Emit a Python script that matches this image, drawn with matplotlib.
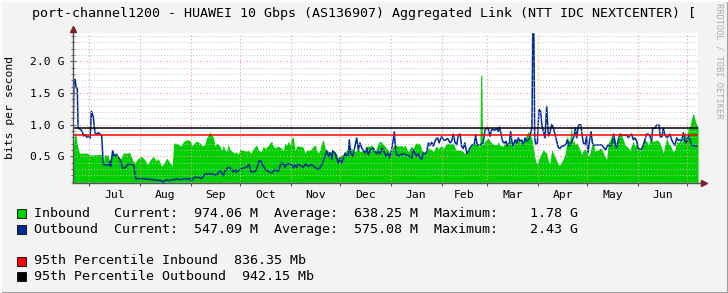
import matplotlib
matplotlib.use('Agg')
import matplotlib.pyplot as plt
from matplotlib.patches import Rectangle
from matplotlib.lines import Line2D

plt.rcParams['font.family'] = ['DejaVu Sans Mono']

# x = days since Jun 21, values in Gbps
months = ['Jul', 'Aug', 'Sep', 'Oct', 'Nov', 'Dec', 'Jan', 'Feb', 'Mar', 'Apr', 'May', 'Jun']
month_starts = [10, 41, 72, 102, 133, 163, 194, 225, 253, 284, 314, 345, 375]

in_days = [0, 1.2, 1.8, 2.2, 3.9, 8.3, 10.8, 17.5, 18.5, 19.1, 21.6, 22.2, 23.6, 26.7, 28.7, 30.7,
           33.8, 34.4, 36.8, 37.9, 39.9, 41.9, 44, 45.4, 47, 49, 50.7, 52.1, 54.1, 56.2, 57.2, 59.2,
           60.5, 61.5, 62.3, 64.3, 66, 67.4, 69.4, 71.4, 72.9, 74.1, 75.5, 77.5, 79, 80.6, 81.6, 82.6,
           83.6, 84.7, 85.7, 86.7, 87.7, 89.1, 90.8, 91.8, 92.8, 93.8, 94.8, 95.9, 96.9, 98.5, 99.9,
           100.9, 102, 103, 104, 105, 107, 108.7, 110.1, 112.1, 113.2, 114.8, 116.2, 117.2, 118.8,
           120.3, 121.3, 122.3, 123.3, 125.4, 127, 128.4, 129.4, 130.5, 131.5, 132.5, 133.5, 134.5,
           135.6, 136.6, 138.6, 140.6, 141.7, 142.7, 144.7, 146.8, 147.8, 148.8, 149.8, 150.8, 151.8,
           152.9, 153.9, 154.9, 156.9, 159, 161, 162, 163, 165.1, 167.1, 168.1, 170.2, 172.2, 174.2,
           175.2, 177.3, 178.3, 179.3, 181.3, 182.4, 183.4, 184.4, 185.4, 186.4, 187.5, 189.5, 191.5,
           192.5, 193.6, 194.6, 195.6, 196.6, 198.6, 200.7, 201.7, 202.7, 203.7, 204.7, 205.8, 206.8,
           207.8, 208.8, 209.8, 211.9, 212.9, 213.9, 214.9, 215.9, 217, 219, 220, 221, 222, 223.1,
           225.1, 226.1, 227.1, 228.1, 230.2, 232.2, 233.2, 234.3, 236.3, 238.3, 239.3, 240.4, 241.4,
           242.4, 243.4, 244.4, 245.4, 247.5, 248.4, 248.9, 249.6, 250.1, 250.5, 251.5, 252.6, 253.6,
           254.6, 255.6, 256.6, 258.7, 259.7, 260.7, 262.7, 263.8, 265.8, 266.8, 267.8, 268.8, 269.9,
           270.9, 272.9, 273.9, 274.9, 276, 277, 278, 279, 280, 281.1, 282.1, 283.1, 284.1, 285.1,
           286.1, 287.2, 288.2, 289.2, 290.2, 291.2, 292.2, 293.3, 294.3, 295.3, 296.3, 297.3, 298.4,
           299.4, 300.4, 301.4, 301.8, 302.4, 303.4, 304.3, 305.1, 305.9, 306.5, 307.5, 308.5, 309.5,
           310.6, 311.6, 312.6, 313.6, 314.6, 315.6, 316.7, 317.7, 318.7, 320.7, 321.8, 322.8, 323.8,
           324.8, 325.8, 326.8, 327.9, 328.9, 329.9, 330.9, 331.9, 332.9, 334, 335, 336, 337, 338,
           339, 340.1, 341.1, 342.1, 343.1, 344.1, 345.2, 346.2, 347.2, 348.2, 349.2, 350.2, 351.3,
           352.3, 353.3, 355.3, 356.3, 357.4, 358.4, 359.4, 360.4, 361.4, 362.5, 363.5, 364.5, 365.5,
           366.5, 367.5, 368.6, 369.6, 370.6, 371.6, 372.6, 373.6, 374.7, 375.7, 376.7, 377.7, 378.7,
           379.3, 380.2, 381.6]
in_vals = [0.63, 0.87, 0.87, 0.74, 0.55, 0.55, 0.52, 0.53, 0.37, 0.52, 0.52, 0.42, 0.55, 0.55, 0.44, 0.55,
           0.55, 0.57, 0.42, 0.40, 0.47, 0.50, 0.44, 0.37, 0.44, 0.50, 0.43, 0.46, 0.34, 0.42, 0.47, 0.40,
           0.35, 0.70, 0.71, 0.69, 0.66, 0.73, 0.76, 0.75, 0.66, 0.71, 0.74, 0.71, 0.66, 0.69, 0.79, 0.84,
           0.88, 0.84, 0.79, 0.66, 0.71, 0.68, 0.60, 0.67, 0.60, 0.58, 0.69, 0.60, 0.58, 0.55, 0.57,
           0.53, 0.62, 0.59, 0.60, 0.58, 0.59, 0.55, 0.62, 0.68, 0.60, 0.57, 0.66, 0.62, 0.66,
           0.71, 0.74, 0.66, 0.63, 0.66, 0.63, 0.59, 0.71, 0.67, 0.74, 0.68, 0.79, 0.80,
           0.59, 0.66, 0.66, 0.64, 0.55, 0.60, 0.59, 0.66, 0.68, 0.60, 0.55, 0.60, 0.71,
           0.76, 0.63, 0.59, 0.57, 0.59, 0.54, 0.47, 0.51, 0.53, 0.60, 0.63, 0.62, 0.57, 0.63,
           0.57, 0.60, 0.58, 0.66, 0.66, 0.68, 0.63, 0.57, 0.64, 0.71, 0.74, 0.69, 0.62,
           0.60, 0.54, 0.60, 0.66, 0.68, 0.66, 0.67, 0.64, 0.68, 0.62, 0.57, 0.63, 0.66,
           0.62, 0.69, 0.71, 0.69, 0.60, 0.57, 0.54, 0.59, 0.63, 0.60, 0.57, 0.63, 0.66, 0.62,
           0.67, 0.62, 0.66, 0.71, 0.69, 0.71, 0.63, 0.59, 0.60, 0.57, 0.54, 0.57, 0.59,
           0.63, 0.66, 0.69, 0.71, 0.67, 0.65, 1.78, 1.78, 0.69, 0.69, 0.74, 0.76, 0.79,
           0.74, 0.71, 0.69, 0.68, 0.73, 0.67, 0.66, 0.74, 0.67, 0.76, 0.71, 0.63, 0.74,
           0.79, 0.71, 0.76, 0.68, 0.79, 0.85, 0.89, 0.85, 0.79, 0.63, 0.47, 0.37, 0.43, 0.50,
           0.55, 0.60, 0.57, 0.55, 0.43, 0.39, 0.60, 0.55, 0.50, 0.43, 0.37, 0.36, 0.42,
           0.46, 0.53, 0.71, 0.84, 0.74, 0.76, 1.00, 0.71, 0.76, 0.68, 0.71, 0.66, 0.60,
           0.53, 0.60, 0.62, 0.57, 0.50, 0.55, 0.68, 0.69, 0.58, 0.60, 0.63, 0.62, 0.55,
           0.50, 0.45, 0.71, 0.76, 0.82, 0.84, 0.76, 0.67, 0.76, 0.85, 0.84, 0.76, 0.68, 0.66,
           0.63, 0.60, 0.68, 0.74, 0.66, 0.71, 0.60, 0.58, 0.63, 0.71, 0.76, 0.74, 0.67,
           0.76, 0.74, 0.74, 0.76, 0.74, 0.71, 0.63, 0.55, 0.68, 0.79, 0.71, 0.68, 0.63,
           0.57, 0.60, 0.74, 0.71, 0.75, 0.71, 0.81, 0.89, 0.79, 0.95, 0.97, 1.10, 1.18,
           1.13, 1.03, 0.97]

out_days = [0, 0.6, 1.3, 1.9, 2.6, 3.1, 5.5, 6.5, 7.5, 8.5, 9.5, 10.5, 11.2, 12.4, 13.4, 14.5, 15.5,
            17.5, 18.5, 22, 22.6, 23, 24.2, 25, 26.7, 28.7, 30.3, 32, 33.8, 36, 37.2, 38.3, 43, 49, 54,
            55, 57, 59, 61, 63.3, 66.3, 68, 71.4, 72.4, 74.1, 76.5, 78.6, 80.6, 84.7, 87.7, 89.7, 90.8,
            91.8, 92.8, 94.8, 95.9, 97.9, 98.9, 99.9, 102, 104, 106, 107.4, 108.7, 111, 112.1, 113.6,
            114.8, 116.2, 117.6, 119.3, 121.3, 123.3, 125.4, 127, 128.4, 129.4, 130.5, 132.5, 133.5,
            134.5, 135.6, 136.6, 137.6, 138.6, 140.6, 141.7, 143.7, 145.7, 147.8, 149.8, 150.8, 152.4,
            153.9, 154.9, 155.9, 156.9, 158, 158.6, 160, 161, 162, 163, 164, 165.1, 166.1, 167.1, 168.1,
            168.7, 169.5, 170.8, 172.2, 173.2, 174.2, 175.2, 176.3, 177.3, 178.3, 179.3, 180.3, 181.3,
            183.4, 184.4, 185.4, 186.4, 187.5, 188.5, 189.9, 191.1, 192.1, 193.6, 194.6, 195.6, 196.2,
            197, 198.2, 199.7, 201.7, 203.7, 205.8, 206.8, 207.8, 208.8, 209.8, 210.8, 211.9, 212.9,
            213.9, 214.9, 215.9, 217, 218, 219, 220, 221.4, 222.7, 223.5, 225.1, 226.1, 227.1, 228.8,
            230.2, 231.2, 232.2, 233.2, 234.3, 235.3, 236.3, 237.3, 238.3, 239.3, 240.4, 241.4, 242.4,
            243.8, 245, 245.9, 246.7, 248.5, 250.5, 251.6, 252.6, 253.6, 254.6, 255.6, 256.6, 257.6,
            258.7, 259.7, 260.3, 261.1, 262.3, 263.2, 264.4, 265.2, 266.4, 267.2, 268, 268.8, 269.9,
            270.9, 271.9, 272.9, 273.9, 274.9, 276, 277, 278, 279, 280.2, 280.7, 281.4, 281.9, 282.5,
            283.5, 284.5, 285.5, 286.3, 287.2, 288.2, 289.2, 290.2, 291.2, 292.2, 293.3, 294.3, 295.3,
            296.3, 297.3, 298.4, 299.4, 301, 301.8, 303, 304.1, 305.1, 305.9, 306.7, 307.5, 308.7, 310,
            310.8, 311.6, 312.6, 313.6, 314.4, 315.2, 316.3, 317.1, 318.1, 319.3, 320.8, 322.8, 325.2,
            326.5, 327.9, 329.3, 330.1, 331, 331.9, 332.9, 334, 335, 336, 337, 338, 339, 340.1, 341.1,
            342.1, 343.1, 344.1, 345.2, 346.2, 347.2, 348.2, 349.2, 350.2, 351.3, 352.3, 353.3, 353.9,
            355.3, 356.3, 357.8, 358.6, 359.6, 360.4, 361.4, 362.5, 363.5, 364.5, 365.5, 366.5, 367.5,
            368.6, 369.6, 370.6, 371.6, 372.6, 373.6, 374.7, 375.7, 376.7, 377.7, 378.7, 379.8, 380.8]
out_vals = [0.87, 1.71, 1.71, 1.58, 1.58, 0.95, 0.90, 0.82, 0.84, 0.80, 0.81, 0.79, 1.21, 1.12, 0.87, 0.85, 0.87,
            0.83, 0.37, 0.36, 0.42, 0.34, 0.59, 0.50, 0.52, 0.45, 0.31, 0.32, 0.38, 0.37, 0.35, 0.146, 0.146, 0.13, 0.115,
            0.09, 0.13, 0.115, 0.13, 0.14, 0.13, 0.145, 0.145, 0.115, 0.167, 0.167, 0.145, 0.22, 0.22, 0.20, 0.27, 0.24,
            0.19, 0.27, 0.325, 0.315, 0.25, 0.29, 0.25, 0.29, 0.315, 0.325, 0.37, 0.25, 0.26, 0.29, 0.43,
            0.42, 0.34, 0.29, 0.26, 0.235, 0.29, 0.26, 0.39, 0.38, 0.325, 0.38, 0.38, 0.37,
            0.315, 0.36, 0.325, 0.38, 0.36, 0.325, 0.38, 0.34, 0.37, 0.325, 0.29, 0.315, 0.39,
            0.50, 0.59, 0.50, 0.55, 0.45, 0.59, 0.55, 0.47, 0.39, 0.47, 0.39, 0.47, 0.55, 0.50, 0.52,
            0.76, 0.55, 0.50, 0.66, 0.79, 0.60, 0.71, 0.63, 0.59, 0.55, 0.63, 0.52, 0.60,
            0.63, 0.57, 0.54, 0.58, 0.54, 0.63, 0.57, 0.50, 0.55, 0.48, 0.62, 0.76, 0.89,
            0.58, 0.50, 0.52, 0.54, 0.52, 0.50, 0.47, 0.60, 0.55, 0.50, 0.54, 0.48, 0.45,
            0.55, 0.54, 0.57, 0.71, 0.67, 0.72, 0.66, 0.76, 0.79, 0.71, 0.815, 0.76, 0.75, 0.78,
            0.71, 0.74, 0.85, 0.72, 0.68, 0.84, 0.85, 0.66, 0.62, 0.71, 0.54, 0.58, 0.63,
            0.68, 0.69, 0.84, 0.68, 0.68, 0.71, 0.92, 0.94, 0.93, 0.815, 0.92, 0.92, 0.91,
            0.94, 0.89, 0.96, 0.89, 0.735, 0.71, 0.735, 0.66, 0.71, 0.89, 0.735, 0.66, 0.76,
            0.71, 0.79, 0.735, 0.76, 0.68, 0.79, 0.735, 0.76, 0.815, 0.95, 2.43, 2.43, 0.79, 0.69,
            0.71, 1.24, 1.21, 0.98, 0.89, 0.79, 1.29, 0.82, 0.87, 1.00, 0.95, 0.84, 0.74,
            0.64, 0.62, 0.66, 0.66, 0.69, 0.76, 0.66, 0.71, 0.76, 0.815, 0.95, 0.79, 0.99, 1.00,
            0.84, 0.71, 0.68, 0.815, 0.55, 0.71, 0.89, 0.71, 0.67, 0.68, 0.68, 0.68, 0.60,
            0.68, 0.66, 0.71, 0.85, 0.71, 0.63, 0.76, 0.85, 0.84, 0.83, 0.83, 0.84, 0.79, 0.83, 0.85,
            0.76, 0.79, 0.74, 0.63, 0.60, 0.62, 0.68, 0.76, 0.85, 0.85, 0.815, 0.74, 0.94,
            0.94, 0.99, 0.99, 0.80, 0.81, 0.94, 0.84, 0.79, 0.815, 0.85, 0.76, 0.71, 0.67,
            0.79, 0.75, 0.76, 0.74, 0.87, 0.74, 0.71, 0.83, 0.76, 0.68, 0.67, 0.66, 0.66]

pct_in = 0.83635
pct_out = 0.94215
ymin, ymax = 0.073, 2.44
xmax = 381.6

legend_rows = [
    ('#00CF00', 'Inbound   Current:  974.06 M  Average:  638.25 M  Maximum:    1.78 G'),
    ('#002A97', 'Outbound  Current:  547.09 M  Average:  575.08 M  Maximum:    2.43 G'),
    ('#FF0000', '95th Percentile Inbound  836.35 Mb'),
    ('#000000', '95th Percentile Outbound  942.15 Mb'),
]
legend_y = [213.3, 229, 261, 276.7]

W, H = 728, 293
fig = plt.figure(figsize=(W / 100, H / 100), dpi=100)
fig.patch.set_facecolor('#F3F3F3')

ax = fig.add_axes([73 / W, 1 - 183.3 / H, (698 - 73) / W, 150 / H])
ax.set_facecolor('white')

ax.fill_between(in_days, 0, in_vals, color='#00CF00', lw=0, zorder=2)
ax.plot(out_days, out_vals, color='#002A97', lw=1.1, zorder=3)
ax.axhline(pct_in, color='#FF0000', lw=1.1, zorder=4)
ax.axhline(pct_out, color='#000000', lw=1.1, zorder=4)

ax.set_xlim(0, xmax)
ax.set_ylim(ymin, ymax)

# grid
for v in [i / 10 for i in range(1, 25)]:
    if abs(v * 2 - round(v * 2)) < 1e-6:
        continue
    ax.axhline(v, color='#C4C4C4', lw=0.7, ls=(0, (1, 2)), zorder=5)
for v in [0.5, 1.0, 1.5, 2.0]:
    ax.axhline(v, color='#F0A0A0', lw=0.8, ls=(0, (1, 2)), zorder=5)
for d in month_starts:
    ax.axvline(d, color='#F0A0A0', lw=0.8, ls=(0, (1, 2)), zorder=5)

ax.set_yticks([0.5, 1.0, 1.5, 2.0])
ax.set_yticklabels(['0.5 G', '1.0 G', '1.5 G', '2.0 G'])
ax.set_yticks([i / 10 for i in range(1, 25)], minor=True)
ax.tick_params(axis='y', which='major', direction='inout', length=4, width=0.8, color='#555555',
               labelsize=8.2, pad=4, labelcolor='black')
ax.tick_params(axis='y', which='minor', direction='inout', length=3, width=0.6, color='#555555')

mids = [(a + b) / 2 for a, b in zip(month_starts[:-1], month_starts[1:])]
ax.set_xticks(month_starts)
ax.set_xticklabels([''] * len(month_starts))
ax.set_xticks(mids, minor=True)
ax.set_xticklabels(months, minor=True)
ax.tick_params(axis='x', which='major', direction='inout', length=4, width=0.8, color='#555555')
ax.tick_params(axis='x', which='minor', length=0, labelsize=8.2, pad=5)

for s in ['top', 'right']:
    ax.spines[s].set_visible(False)
for s in ['left', 'bottom']:
    ax.spines[s].set_color('#555555')
    ax.spines[s].set_linewidth(1.0)
    ax.spines[s].set_zorder(6)

# axis arrows
ax.plot([1.0, 1.008], [0, 0], transform=ax.transAxes, color='#555555', lw=1, clip_on=False)
ax.plot(1.01, 0, marker='>', ms=4.5, color='#7F1F1F', transform=ax.transAxes, clip_on=False)
ax.plot([0, 0], [1.0, 1.02], transform=ax.transAxes, color='#555555', lw=1, clip_on=False)
ax.plot(0, 1.03, marker='^', ms=4.5, color='#7F1F1F', transform=ax.transAxes, clip_on=False)

fig.text(32 / W, 1 - 14 / H, 'port-channel1200 - HUAWEI 10 Gbps (AS136907) Aggregated Link (NTT IDC NEXTCENTER) [',
         fontsize=9.6, ha='left', va='center')
fig.text(10 / W, 1 - 107 / H, 'bits per second', rotation=90, fontsize=8.2, ha='center', va='center')
fig.text(719 / W, 1 - 61 / H, 'RRDTOOL / TOBI OETIKER', rotation=270, fontsize=6.2, color='#AAAAAA',
         ha='center', va='center')

for (c, label), y in zip(legend_rows, legend_y):
    fig.add_artist(Rectangle((17 / W, 1 - (y + 4.5) / H), 9 / W, 9 / H, transform=fig.transFigure,
                             facecolor=c, edgecolor='black', lw=0.6))
    fig.text(34 / W, 1 - y / H, label, fontsize=9.6, ha='left', va='center')

# frame
fig.add_artist(Line2D([0, 1], [0.5 / H, 0.5 / H], transform=fig.transFigure, color='#A0A0A0', lw=1.5))
fig.add_artist(Line2D([1 - 0.5 / W, 1 - 0.5 / W], [0, 1], transform=fig.transFigure, color='#A0A0A0', lw=1.5))
fig.add_artist(Line2D([0, 1], [1 - 0.5 / H, 1 - 0.5 / H], transform=fig.transFigure, color='#FCFCFC', lw=1.5))
fig.add_artist(Line2D([0.5 / W, 0.5 / W], [0, 1], transform=fig.transFigure, color='#FCFCFC', lw=1.5))

fig.savefig('out.png', dpi=100)
